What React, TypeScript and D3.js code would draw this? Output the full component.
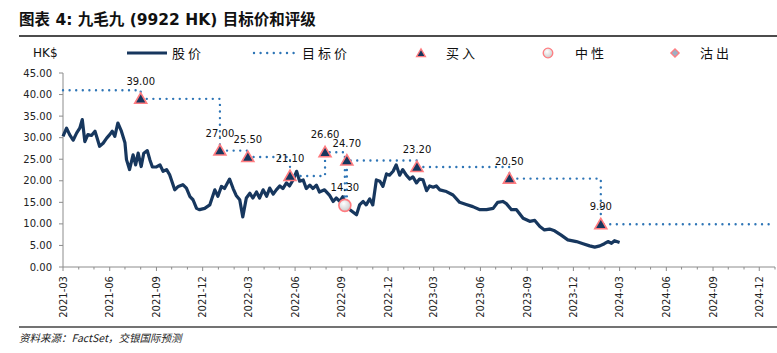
import React from "react";
import * as d3 from "d3";

const W = 777;
const H = 353;
const margin = { top: 73, right: 2, bottom: 86, left: 63 };

// share price (HK$)
const priceDates = [
  "2021-03-01", "2021-03-08", "2021-03-14", "2021-03-21", "2021-03-28", "2021-04-03", "2021-04-08", "2021-04-13",
  "2021-04-19", "2021-04-26", "2021-05-03", "2021-05-07", "2021-05-12", "2021-05-19", "2021-05-26", "2021-06-01",
  "2021-06-06", "2021-06-11", "2021-06-17", "2021-06-24", "2021-07-01", "2021-07-04", "2021-07-10", "2021-07-17",
  "2021-07-22", "2021-07-27", "2021-08-02", "2021-08-07", "2021-08-14", "2021-08-19", "2021-08-24", "2021-09-01",
  "2021-09-08", "2021-09-14", "2021-09-21", "2021-09-27", "2021-10-07", "2021-10-14", "2021-10-23", "2021-10-30",
  "2021-11-06", "2021-11-12", "2021-11-19", "2021-11-25", "2021-12-05", "2021-12-15", "2021-12-25", "2021-12-31",
  "2022-01-07", "2022-01-13", "2022-01-23", "2022-01-30", "2022-02-05", "2022-02-12", "2022-02-18", "2022-02-25",
  "2022-03-04", "2022-03-10", "2022-03-17", "2022-03-23", "2022-03-30", "2022-04-06", "2022-04-12", "2022-04-19",
  "2022-04-25", "2022-05-02", "2022-05-08", "2022-05-15", "2022-05-21", "2022-05-28", "2022-06-04", "2022-06-10",
  "2022-06-17", "2022-06-23", "2022-06-30", "2022-07-06", "2022-07-13", "2022-07-19", "2022-07-29", "2022-08-08",
  "2022-08-15", "2022-08-21", "2022-08-28", "2022-09-03", "2022-09-10", "2022-09-17", "2022-09-30", "2022-10-06",
  "2022-10-13", "2022-10-19", "2022-10-26", "2022-11-01", "2022-11-08", "2022-11-15", "2022-11-21", "2022-11-28",
  "2022-12-04", "2022-12-11", "2022-12-17", "2022-12-24", "2022-12-30", "2023-01-06", "2023-01-13", "2023-01-19",
  "2023-01-26", "2023-02-01", "2023-02-08", "2023-02-15", "2023-02-21", "2023-02-28", "2023-03-06", "2023-03-13",
  "2023-03-26", "2023-04-08", "2023-04-21", "2023-05-04", "2023-05-17", "2023-05-31", "2023-06-13", "2023-06-26",
  "2023-07-05", "2023-07-15", "2023-07-22", "2023-08-01", "2023-08-11", "2023-08-24", "2023-09-06", "2023-09-16",
  "2023-09-26", "2023-10-05", "2023-10-15", "2023-10-25", "2023-11-07", "2023-11-20", "2023-12-07", "2023-12-20",
  "2024-01-02", "2024-01-12", "2024-01-22", "2024-01-31", "2024-02-07", "2024-02-14", "2024-02-20", "2024-03-01",
];
const priceValues = [
  30.3, 32.2, 30.7, 29.4, 31.1, 32.2, 34.2, 29.1,
  30.7, 30.5, 31.5, 30.0, 28.0, 28.7, 29.9, 30.7,
  31.5, 30.3, 33.4, 31.5, 28.8, 24.9, 22.6, 26.0,
  23.7, 26.4, 23.3, 26.4, 27.0, 24.9, 23.2, 23.2,
  23.7, 22.2, 22.6, 21.4, 17.9, 18.7, 19.1, 18.3,
  16.3, 15.6, 13.6, 13.3, 13.6, 14.4, 17.9, 16.4,
  18.7, 18.2, 20.4, 18.2, 16.6, 15.6, 11.6, 16.0,
  17.1, 16.0, 17.4, 16.0, 17.9, 16.4, 18.3, 16.9,
  17.9, 18.8, 18.2, 19.5, 18.8, 20.2, 22.2, 19.9,
  20.2, 18.2, 19.0, 18.2, 19.0, 17.4, 17.9, 16.6,
  15.2, 16.0, 15.2, 16.3, 14.2, 13.3, 12.1, 14.4,
  15.2, 14.4, 15.8, 14.4, 20.2, 19.9, 18.7, 21.6,
  21.3, 22.2, 23.7, 21.3, 22.6, 21.3, 20.4, 20.9,
  19.5, 20.4, 20.2, 17.7, 18.8, 18.5, 18.8, 17.9,
  17.5, 16.7, 15.0, 14.5, 14.0, 13.3, 13.3, 13.6,
  15.0, 15.2, 14.7, 13.3, 13.3, 11.3, 10.6, 10.8,
  9.4, 8.6, 8.8, 8.4, 7.4, 6.3, 5.9, 5.4,
  4.9, 4.6, 4.9, 5.4, 5.9, 5.5, 6.1, 5.7,
];

// target price and rating changes
const targetDates = [
  "2021-03-01", "2021-08-01", "2022-01-04", "2022-02-28", "2022-05-22", "2022-07-30",
  "2022-09-07", "2022-09-11", "2023-01-27", "2023-07-28", "2024-01-24", "2024-12-31",
];
const targetValues = [41, 39, 27, 25.5, 21.1, 26.6, 14.3, 24.7, 23.2, 20.5, 9.9, 9.9];
const targetRatings = ["", "buy", "buy", "buy", "buy", "buy", "neutral", "buy", "buy", "buy", "buy", ""];

const yTicks = [0, 5, 10, 15, 20, 25, 30, 35, 40, 45];
const legendLabels = ["股价", "目标价", "买入", "中性", "沽出"];

const NAVY = "#17375E";
const DOTS = "#2E75B6";
const PINK = "#FF7C80";
const AXIS = "#8C8C8C";
const FONT = "'DejaVu Sans', 'Noto Sans CJK SC', sans-serif";
const CJK = "'Noto Sans CJK SC', sans-serif";

const parse = d3.timeParse("%Y-%m-%d");

export default function App() {
  const x = d3
    .scaleTime()
    .domain([new Date(2021, 2, 1), new Date(2025, 0, 1)])
    .range([margin.left, W - margin.right]);
  const y = d3
    .scaleLinear()
    .domain([0, 45])
    .range([H - margin.bottom, margin.top]);

  const price = priceDates.map((d, i) => ({ date: parse(d), value: priceValues[i] }));
  const target = targetDates.map((d, i) => ({
    date: parse(d),
    value: targetValues[i],
    rating: targetRatings[i],
  }));

  const priceLine = d3
    .line()
    .x(d => x(d.date))
    .y(d => y(d.value));
  const stepLine = d3
    .line()
    .x(d => x(d.date))
    .y(d => y(d.value))
    .curve(d3.curveStepAfter);

  const tri = d3.symbol().type(d3.symbolTriangle).size(62)();
  const triSmall = d3.symbol().type(d3.symbolTriangle).size(34)();
  const square = d3.symbol().type(d3.symbolSquare).size(34)();

  const months = d3.timeMonth.range(new Date(2021, 2, 1), new Date(2025, 0, 2));
  const fmtMonth = d3.timeFormat("%Y-%m");
  const fmt2 = d3.format(".2f");
  const y0 = H - margin.bottom;

  return (
    <svg width={W} height={H} style={{ position: "absolute", left: 0, top: 0, background: "#fff" }}>
      <defs>
        <radialGradient id="neutralFill" cx="40%" cy="35%" r="70%">
          <stop offset="0%" stopColor="#ffffff" />
          <stop offset="100%" stopColor="#c8c8c8" />
        </radialGradient>
      </defs>

      {/* title */}
      <text x={19} y={25} fontFamily={FONT} fontSize={15.5} fontWeight="bold" fill="#111">
        图表 4: 九毛九 (9922 HK) 目标价和评级
      </text>
      <line x1={19} x2={W} y1={36} y2={36} stroke="#111" strokeWidth={1.5} />

      {/* legend */}
      <text x={33} y={57} fontFamily={FONT} fontSize={12} fill="#111">HK$</text>
      <line x1={127} x2={167} y1={53} y2={53} stroke={NAVY} strokeWidth={3} />
      <text x={172} y={58} fontFamily={CJK} fontSize={13} letterSpacing={3} fill="#111">{legendLabels[0]}</text>
      <line x1={254} x2={294} y1={53} y2={53} stroke={DOTS} strokeWidth={2.4} strokeDasharray="0 6.6" strokeLinecap="round" />
      <text x={302} y={58} fontFamily={CJK} fontSize={13} letterSpacing={3} fill="#111">{legendLabels[1]}</text>
      <path d={triSmall} transform="translate(421,54)" fill={NAVY} stroke={PINK} strokeWidth={1.3} />
      <text x={446} y={58} fontFamily={CJK} fontSize={13} letterSpacing={3} fill="#111">{legendLabels[2]}</text>
      <circle cx={548} cy={53} r={4.8} fill="url(#neutralFill)" stroke={PINK} strokeWidth={1.3} />
      <text x={575} y={58} fontFamily={CJK} fontSize={13} letterSpacing={3} fill="#111">{legendLabels[3]}</text>
      <path d={square} transform="translate(675,53) rotate(45)" fill="#9DB0C4" stroke={PINK} strokeWidth={1.3} />
      <text x={700} y={58} fontFamily={CJK} fontSize={13} letterSpacing={3} fill="#111">{legendLabels[4]}</text>

      {/* y axis */}
      <line x1={margin.left} x2={margin.left} y1={y(45)} y2={y0} stroke={AXIS} />
      {yTicks.map(t => (
        <g key={t}>
          <line x1={margin.left - 4} x2={margin.left} y1={y(t)} y2={y(t)} stroke={AXIS} />
          <text x={52} y={y(t)} dy="0.35em" textAnchor="end" fontFamily={FONT} fontSize={10} fill="#222">
            {fmt2(t)}
          </text>
        </g>
      ))}

      {/* x axis */}
      <line x1={margin.left} x2={W - margin.right} y1={y0} y2={y0} stroke={AXIS} />
      {months.map(m => {
        const major = m.getMonth() % 3 === 2;
        const xm = x(m);
        return (
          <g key={+m}>
            <line x1={xm} x2={xm} y1={y0} y2={y0 + (major ? 4 : 2.5)} stroke={AXIS} />
            {major && (
              <text
                transform={`translate(${xm},${y0 + 9}) rotate(-90)`}
                dy="0.35em"
                textAnchor="end"
                fontFamily={FONT}
                fontSize={10}
                fill="#222"
              >
                {fmtMonth(m)}
              </text>
            )}
          </g>
        );
      })}

      {/* price */}
      <path d={priceLine(price)} fill="none" stroke={NAVY} strokeWidth={3.2} strokeLinejoin="round" />

      {/* target price */}
      <path
        d={stepLine(target)}
        fill="none"
        stroke={DOTS}
        strokeWidth={2.4}
        strokeDasharray="0 6.6"
        strokeLinecap="round"
      />

      {/* rating markers */}
      {target
        .filter(d => d.rating)
        .map((d, i) => (
          <g key={i} transform={`translate(${x(d.date)},${y(d.value)})`}>
            {d.rating === "buy" ? (
              <path d={tri} transform="translate(0,1)" fill={NAVY} stroke={PINK} strokeWidth={1.6} />
            ) : (
              <circle r={6} fill="url(#neutralFill)" stroke={PINK} strokeWidth={1.6} />
            )}
            <text y={-14} textAnchor="middle" fontFamily={FONT} fontSize={10} fill="#111">
              {fmt2(d.value)}
            </text>
          </g>
        ))}

      {/* footer */}
      <line x1={19} x2={W} y1={327} y2={327} stroke="#444" strokeWidth={1.5} />
      <text x={19} y={342} fontFamily={CJK} fontSize={10.5} fontStyle="italic" fill="#222">
        资料来源：FactSet，交银国际预测
      </text>
    </svg>
  );
}
